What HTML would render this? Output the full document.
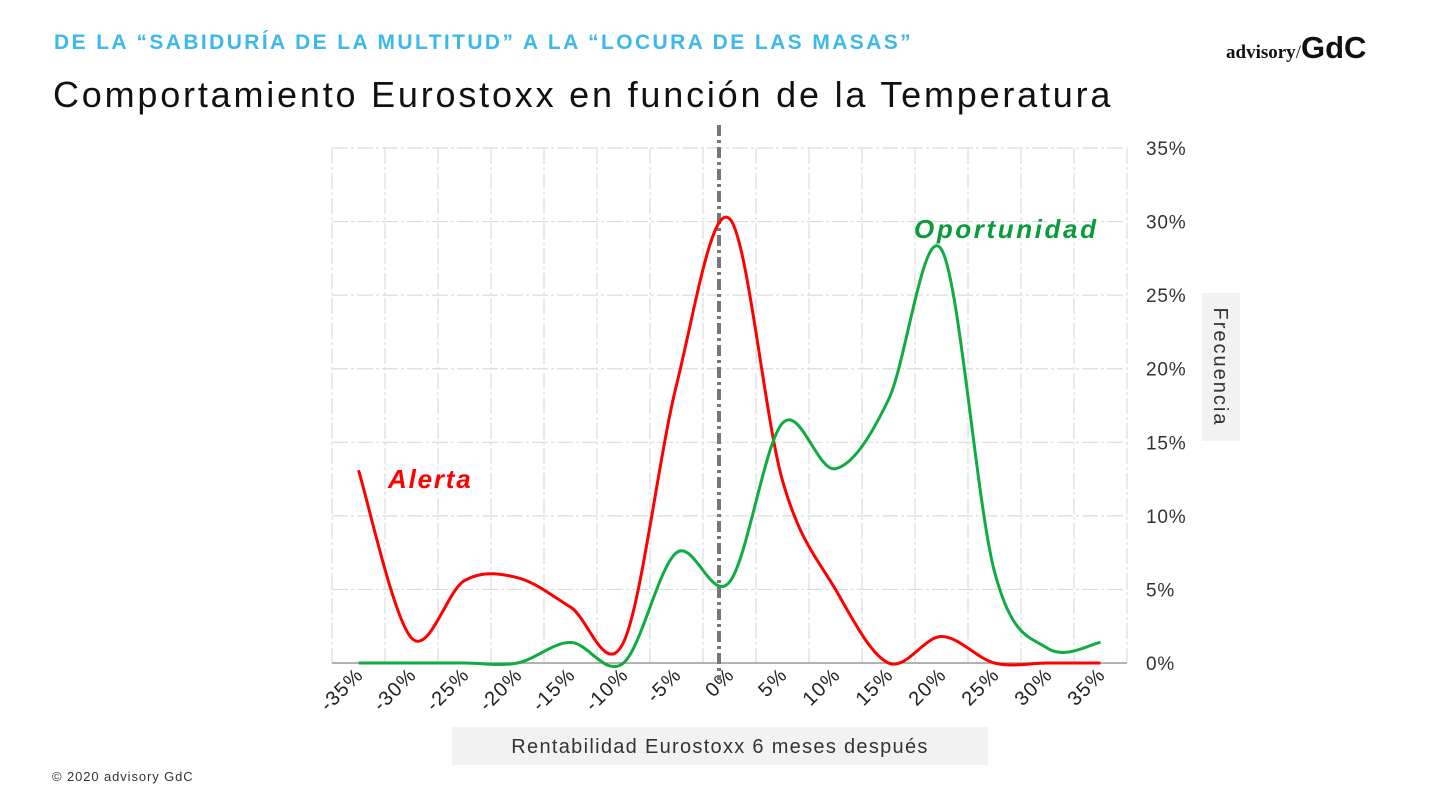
<!DOCTYPE html>
<html><head><meta charset="utf-8"><style>
body{margin:0;width:1440px;height:808px;background:#fff;font-family:"Liberation Sans",sans-serif;position:relative;overflow:hidden}
.t1{position:absolute;left:54px;top:31px;font-size:21px;font-weight:bold;color:#3db8ea;letter-spacing:2.4px}
.t2{position:absolute;left:53px;top:74px;font-size:36px;color:#111;letter-spacing:2.8px}
.logo{position:absolute;left:1226px;top:30px;font-family:"Liberation Serif",serif;font-weight:bold;font-size:19px;color:#111}
.logo b{font-family:"Liberation Sans",sans-serif;font-size:31px;letter-spacing:0px}
.copy{position:absolute;left:52px;top:769px;font-size:13px;color:#333;letter-spacing:0.9px}
</style></head><body>
<div class="t1">DE LA “SABIDURÍA DE LA MULTITUD” A LA “LOCURA DE LAS MASAS”</div>
<div class="t2">Comportamiento Eurostoxx en función de la Temperatura</div>
<div class="logo">advisory<span style="font-weight:normal">/</span><b>GdC</b></div>
<div class="copy">© 2020 advisory GdC</div>
<svg width="1440" height="808" style="position:absolute;left:0;top:0" id="s">
<g id="grid"></g>
<rect x="452" y="727" width="536" height="38" fill="#f2f2f2"/>
<text x="720" y="753" font-size="20" letter-spacing="1.3" text-anchor="middle" fill="#333" font-family="Liberation Sans">Rentabilidad Eurostoxx 6 meses después</text>
<rect x="1202" y="293" width="38" height="148" fill="#f2f2f2"/>
<text transform="translate(1214,367) rotate(90)" font-size="20" letter-spacing="2" text-anchor="middle" fill="#333" font-family="Liberation Sans">Frecuencia</text>
<line x1="719" y1="125" x2="719" y2="680" stroke="#777" stroke-width="4" stroke-dasharray="11,4,3,4"/>
<path id="red" fill="none" stroke="#ff0000" stroke-width="3"/>
<path id="green" fill="none" stroke="#0fab43" stroke-width="3"/>
<text x="388" y="488" font-size="26" letter-spacing="1.8" font-style="italic" font-weight="bold" fill="#ff0000" font-family="Liberation Sans">Alerta</text>
<text x="914" y="238" font-size="26" letter-spacing="2.6" font-style="italic" font-weight="bold" fill="#0b9a3c" font-family="Liberation Sans">Oportunidad</text>
</svg>
<script>
var g=document.getElementById('grid'),h='';
function Y(v){return 663-v*14.714;}
for(var i=0;i<=15;i++){var x=332+53*i;h+='<line x1="'+x+'" y1="148" x2="'+x+'" y2="663" stroke="#dcdcdc" stroke-width="1.2" stroke-dasharray="16,3,3,3"/>';}
for(var k=0;k<=7;k++){var y=663-k*73.57;h+='<line x1="332" y1="'+y+'" x2="1127" y2="'+y+'" stroke="'+(k==0?'#999':'#dcdcdc')+'" stroke-width="'+(k==0?1.5:1.2)+'"'+(k==0?'':' stroke-dasharray="16,3,3,3"')+'/>';
h+='<text x="1146" y="'+(y+7)+'" font-size="19" letter-spacing="0.8" fill="#333" font-family="Liberation Sans">'+(k*5)+'%</text>';}
for(var i=0;i<15;i++){var x=358.5+53*i+6,v=-35+5*i;h+='<text transform="translate('+x+',676) rotate(-45)" text-anchor="end" font-size="20" letter-spacing="1.2" fill="#222" font-family="Liberation Sans">'+v+'%</text>';}
g.innerHTML=h;
function path(d){var p=d.map(function(v,i){return [358.5+53*i,Y(v)];});var s='M'+p[0][0]+','+p[0][1];
for(var i=0;i<p.length-1;i++){var p0=p[i-1]||p[i],p1=p[i],p2=p[i+1],p3=p[i+2]||p2;
s+=' C'+(p1[0]+(p2[0]-p0[0])/6)+','+(p1[1]+(p2[1]-p0[1])/6)+' '+(p2[0]-(p3[0]-p1[0])/6)+','+(p2[1]-(p3[1]-p1[1])/6)+' '+p2[0]+','+p2[1];}return s;}
document.getElementById('red').setAttribute('d',path([13.1,1.7,5.6,5.8,3.8,1.4,18.9,30.2,12.4,5,0,1.8,0,0,0]));
document.getElementById('green').setAttribute('d',path([0,0,0,0,1.4,0,7.5,5.5,16.3,13.2,17.9,28.1,6.2,1.0,1.4]));
</script>
</body></html>
